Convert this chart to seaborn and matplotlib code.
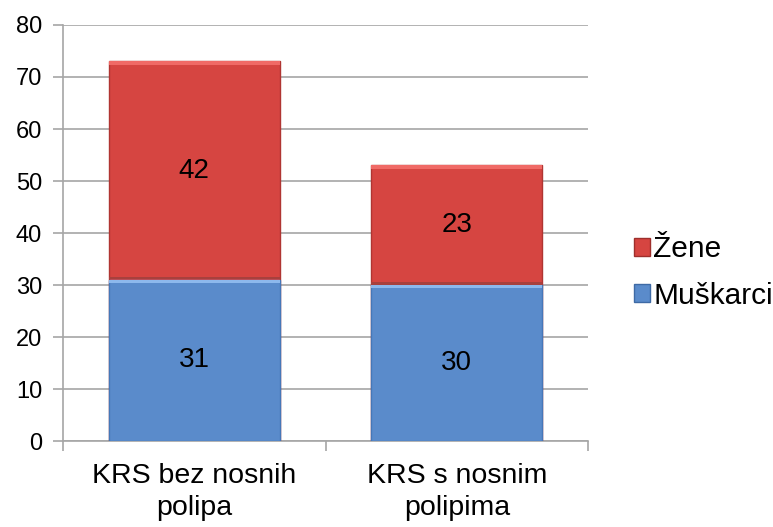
import matplotlib
matplotlib.use("Agg")
import matplotlib.pyplot as plt
import seaborn as sns
import pandas as pd
from matplotlib.patches import Patch

# data
categories = ["KRS bez nosnih\npolipa", "KRS s nosnim\npolipima"]
muskarci = [31, 30]
zene = [42, 23]
y_ticks = [0, 10, 20, 30, 40, 50, 60, 70, 80]

red = "#D64541"
blue = "#5A8BCB"
grid_col = "#A6A6A6"

sns.set_style("white")
plt.rcParams['font.family'] = ['Liberation Sans', 'DejaVu Sans']
plt.rcParams['text.color'] = 'black'
plt.rcParams['xtick.labelcolor'] = 'black'
plt.rcParams['ytick.labelcolor'] = 'black'

df = pd.DataFrame({"cat": categories, "Muškarci": muskarci, "Žene": zene})
df["total"] = df["Muškarci"] + df["Žene"]

fig = plt.figure(figsize=(7.73, 5.27), dpi=100)
ax = fig.add_axes([0.0815, 0.163, 0.6792, 0.7896])

# stacked bars: total in red, men drawn over it in blue
sns.barplot(df, x="cat", y="total", color=red, saturation=1, width=0.65,
            edgecolor="#B03532", linewidth=1, ax=ax, zorder=3)
sns.barplot(df, x="cat", y="Muškarci", color=blue, saturation=1, width=0.65,
            edgecolor="#4677B8", linewidth=1, ax=ax, zorder=4)

# bevel-ish highlight on top of each segment
for i in range(len(df)):
    m = df["Muškarci"][i]
    t = df["total"][i]
    ax.bar(i, 0.6, bottom=t - 0.6, width=0.65, color="#F06A66", zorder=5, linewidth=0)
    ax.bar(i, 0.6, bottom=m - 0.6, width=0.65, color="#8DB8EC", zorder=5, linewidth=0)
    ax.bar(i, 0.5, bottom=m + 0.1, width=0.65, color="#A8403D", zorder=5, linewidth=0)

# value labels
for i in range(len(df)):
    m = df["Muškarci"][i]
    z = df["Žene"][i]
    ax.text(i, m / 2, str(m), ha="center", va="center", fontsize=20, zorder=6)
    ax.text(i, m + z / 2, str(z), ha="center", va="center", fontsize=20, zorder=6)

ax.set_xlim(-0.5, 1.5)
ax.set_ylim(0, 80)
ax.set_yticks(y_ticks)
ax.yaxis.grid(True, color=grid_col, linewidth=1.2, zorder=0)
ax.set_axisbelow(True)

ax.set_xlabel(None)
ax.set_ylabel(None)
ax.tick_params(axis="y", labelsize=17, length=7, color=grid_col, width=1.2, pad=8, left=True)
ax.tick_params(axis="x", labelsize=20.5, length=0, pad=16)
for lab in ax.get_xticklabels():
    lab.set_linespacing(1.3)
ax.set_xticks([-0.5, 0.5, 1.5], minor=True)
ax.tick_params(axis="x", which="minor", length=7, color=grid_col, width=1.2, bottom=True)

for s in ["top", "right"]:
    ax.spines[s].set_visible(False)
for s in ["left", "bottom"]:
    ax.spines[s].set_color(grid_col)
    ax.spines[s].set_linewidth(1.2)

handles = [Patch(facecolor=red, edgecolor="#9E2F2C", label="Žene"),
           Patch(facecolor=blue, edgecolor="#3E6AA5", label="Muškarci")]
fig.legend(handles=handles, loc="center left", bbox_to_anchor=(0.785, 0.483),
           frameon=False, fontsize=21.5, handlelength=0.55, handleheight=0.55,
           handletextpad=0.1, labelspacing=0.62)

fig.savefig("out.png", dpi=100)
